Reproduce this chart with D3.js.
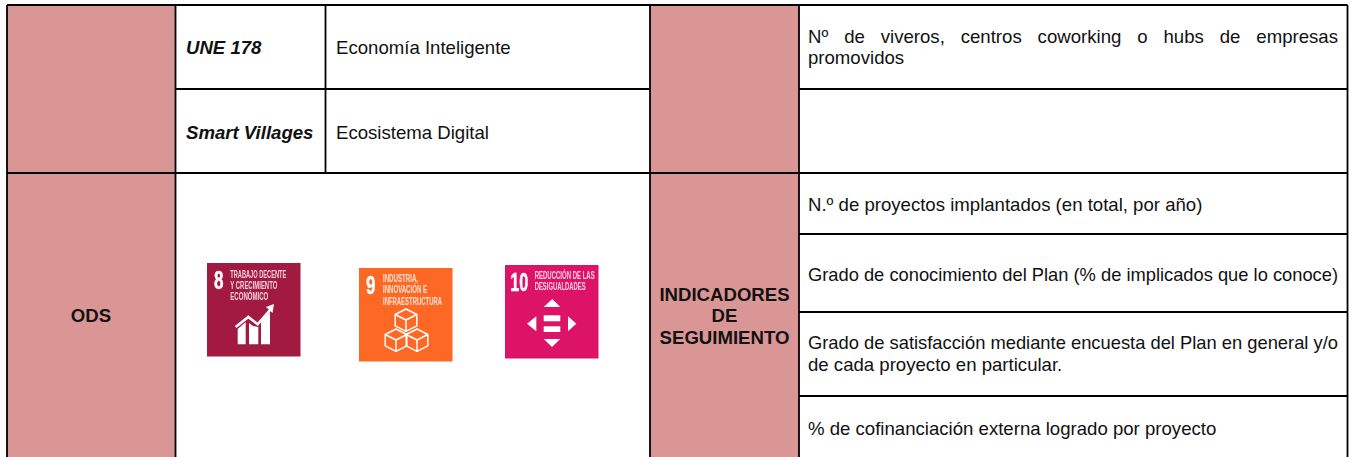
<!DOCTYPE html>
<html lang="es"><head><meta charset="utf-8">
<script src="https://cdn.jsdelivr.net/npm/d3@7"></script>
<style>html,body{margin:0;padding:0;background:#fff}svg{display:block}text{font-family:"Liberation Sans",Arial,sans-serif;fill:#111}</style>
</head><body><svg id="c" width="1354" height="457"></svg>
<script>
const frameworkNames = ["UNE 178", "Smart Villages"];
const frameworkValues = ["Economía Inteligente", "Ecosistema Digital"];
const sectionLabels = ["ODS", "INDICADORES", "DE", "SEGUIMIENTO"];
const topIndicatorLine1 = ["Nº","de","viveros,","centros","coworking","o","hubs","de","empresas"];
const topIndicatorLine2 = "promovidos";
const indicators = [
  ["N.º de proyectos implantados (en total, por año)"],
  ["Grado de conocimiento del Plan (% de implicados que lo conoce)"],
  ["Grado de satisfacción mediante encuesta del Plan en general y/o","de cada proyecto en particular."],
  ["% de cofinanciación externa logrado por proyecto"]
];
const odsGoals = [
  {n:"8", title:["TRABAJO DECENTE","Y CRECIMIENTO","ECONÓMICO"], color:"#a21942", icon:"growth"},
  {n:"9", title:["INDUSTRIA,","INNOVACIÓN E","INFRAESTRUCTURA"], color:"#fd6925", icon:"cubes"},
  {n:"10", title:["REDUCCIÓN DE LAS","DESIGUALDADES"], color:"#dd1367", icon:"arrows"}
];
const colKeys = ["left","c1","c2","c3","c4","right"];
const rowKeys = ["top","r1","r2","i1","i2","i3","i4","bottom"];

const x = d3.scaleOrdinal(colKeys,[7,175.5,325.5,650,799,1347.5]);
const y = d3.scaleOrdinal(rowKeys,[5,89,173,234,312,396,457,457]);
const svg = d3.select("#c");
const pink = "#d99694";

svg.append("g").selectAll("rect").data([["left","c1"],["c3","c4"]]).join("rect")
  .attr("x",d=>x(d[0])).attr("width",d=>x(d[1])-x(d[0]))
  .attr("y",y("top")).attr("height",457-y("top")).attr("fill",pink);

const segs = [
  ["left","right","top","top"],["left","right","r2","r2"],
  ["c1","c3","r1","r1"],["c4","right","r1","r1"],
  ["c4","right","i1","i1"],["c4","right","i2","i2"],["c4","right","i3","i3"],
  ["left","left","top","bottom"],["c1","c1","top","bottom"],["c3","c3","top","bottom"],
  ["c4","c4","top","bottom"],["right","right","top","bottom"],["c2","c2","top","r2"]
];
svg.append("g").attr("stroke","#000").attr("stroke-width",1.8).selectAll("line").data(segs).join("line")
  .attr("x1",d=>x(d[0])).attr("x2",d=>x(d[1])).attr("y1",d=>y(d[2])).attr("y2",d=>y(d[3]));

const fs = 18.6;
const T = (g,t,px,py,o={})=>g.append("text").attr("x",px).attr("y",py).text(t)
  .attr("font-size",o.size||fs).attr("font-weight",o.bold?"bold":null)
  .attr("font-style",o.italic?"italic":null).attr("text-anchor",o.anchor||"start");
const g = svg.append("g");
frameworkNames.forEach((t,i)=>T(g,t,186,i?138.5:54,{bold:true,italic:true}));
frameworkValues.forEach((t,i)=>T(g,t,336,i?138.5:54));
T(g,sectionLabels[0],91,322,{bold:true,anchor:"middle"});
sectionLabels.slice(1).forEach((t,i)=>T(g,t,724.5,300.5+i*21.8,{bold:true,anchor:"middle"}));

const words = g.append("text").attr("y",43).attr("font-size",fs);
const probe = T(g,topIndicatorLine1.join(" "),0,-50);
const natural = probe.node().getComputedTextLength(); probe.remove();
const gaps = topIndicatorLine1.length-1;
words.attr("x",808).attr("word-spacing",(1338-808-natural)/gaps).text(topIndicatorLine1.join(" "));
T(g,topIndicatorLine2,808,64);
const indY = [[211],[281],[348.5,371],[435]];
const fitWidth = {"1-0":530,"2-0":530};
indicators.forEach((ls,i)=>ls.forEach((t,j)=>{
  const el = T(g,t,808,indY[i][j]);
  const w = fitWidth[i+"-"+j];
  if(w) el.attr("textLength",w).attr("lengthAdjust","spacingAndGlyphs");
}));

// ODS icons
const defs = svg.append("defs");
defs.append("filter").attr("id","soft").append("feGaussianBlur").attr("stdDeviation",0.45);
const iconPos = [[207,263],[359,268],[505,265]];
const sz = 93.5;
const numLen = {"8":9.5,"9":9.5,"10":18};
const numX = {"8":7,"9":7,"10":5.3};
const titleX = {"8":23.3,"9":24,"10":29.7};
const titleLen = {"8":[56,47,38],"9":[35,44,59],"10":[60,51]};
const titleY = {"8":[14.7,26,37.3],"9":[13.7,25.3,36.5],"10":[13.7,25.3]};
const ic = svg.append("g").selectAll("g").data(odsGoals).join("g")
  .attr("transform",(d,i)=>`translate(${iconPos[i]})`);
ic.append("rect").attr("width",sz).attr("height",sz).attr("fill",d=>d.color);
ic.each(function(d){
  const s = d3.select(this).append("g").attr("filter","url(#soft)");
  s.append("text").text(d.n).attr("x",numX[d.n]).attr("y",26).attr("font-size",25)
    .attr("font-weight","bold").style("fill","#fff").attr("stroke","#fff").attr("stroke-width",0.5)
    .attr("textLength",numLen[d.n]).attr("lengthAdjust","spacingAndGlyphs");
  d.title.forEach((t,i)=>s.append("text").text(t).attr("x",titleX[d.n]).attr("y",titleY[d.n][i])
    .attr("font-size",10).attr("font-weight","bold").attr("opacity",.8).style("fill","#fff")
    .attr("textLength",titleLen[d.n][i]).attr("lengthAdjust","spacingAndGlyphs"));
  if(d.icon==="growth"){
    s.append("g").attr("fill","#fff").selectAll("path")
     .data(["M30.7 66L38.7 59V81.3H30.7z","M42 60L46 63L51.3 64V81.3H42z","M54 58L63 49V81.3H54z"])
     .join("path").attr("d",p=>p);
    s.append("path").attr("fill","none").attr("stroke","#fff").attr("stroke-width",2.6).attr("d","M28.7 64 L41.3 54 L50.7 61.3 L63 47");
    s.append("path").attr("fill","#fff").attr("d","M59 44 L67 41 L65.5 50z");
  } else if(d.icon==="cubes"){
    const cube=(cx,t)=>[`M${cx} ${t}l10.8 5.5v11.3l-10.8 5.5-10.8-5.5V${t+5.5}z`,`M${cx-10.8} ${t+5.5}l10.8 5.5 10.8-5.5M${cx} ${t+11}v11.3`];
    s.append("g").attr("fill","none").attr("stroke","#fff").attr("stroke-width",1.5).attr("stroke-linejoin","round")
     .selectAll("path").data([...cube(47,41),...cube(37,61),...cube(58,61)])
     .join("path").attr("d",p=>p);
  } else {
    s.append("g").attr("fill","#fff").selectAll("path")
     .data(["M47.3 34L55.3 42H38.7z","M47 82L38.7 74H55.3z","M22 58.7L31.3 51.3V66.3z","M71.3 58.7L63 51.3V66.3z","M38.7 50.3H55.3V56.3H38.7z","M38.7 61.3H55.3V67H38.7z"])
     .join("path").attr("d",p=>p);
  }
});
</script></body></html>
